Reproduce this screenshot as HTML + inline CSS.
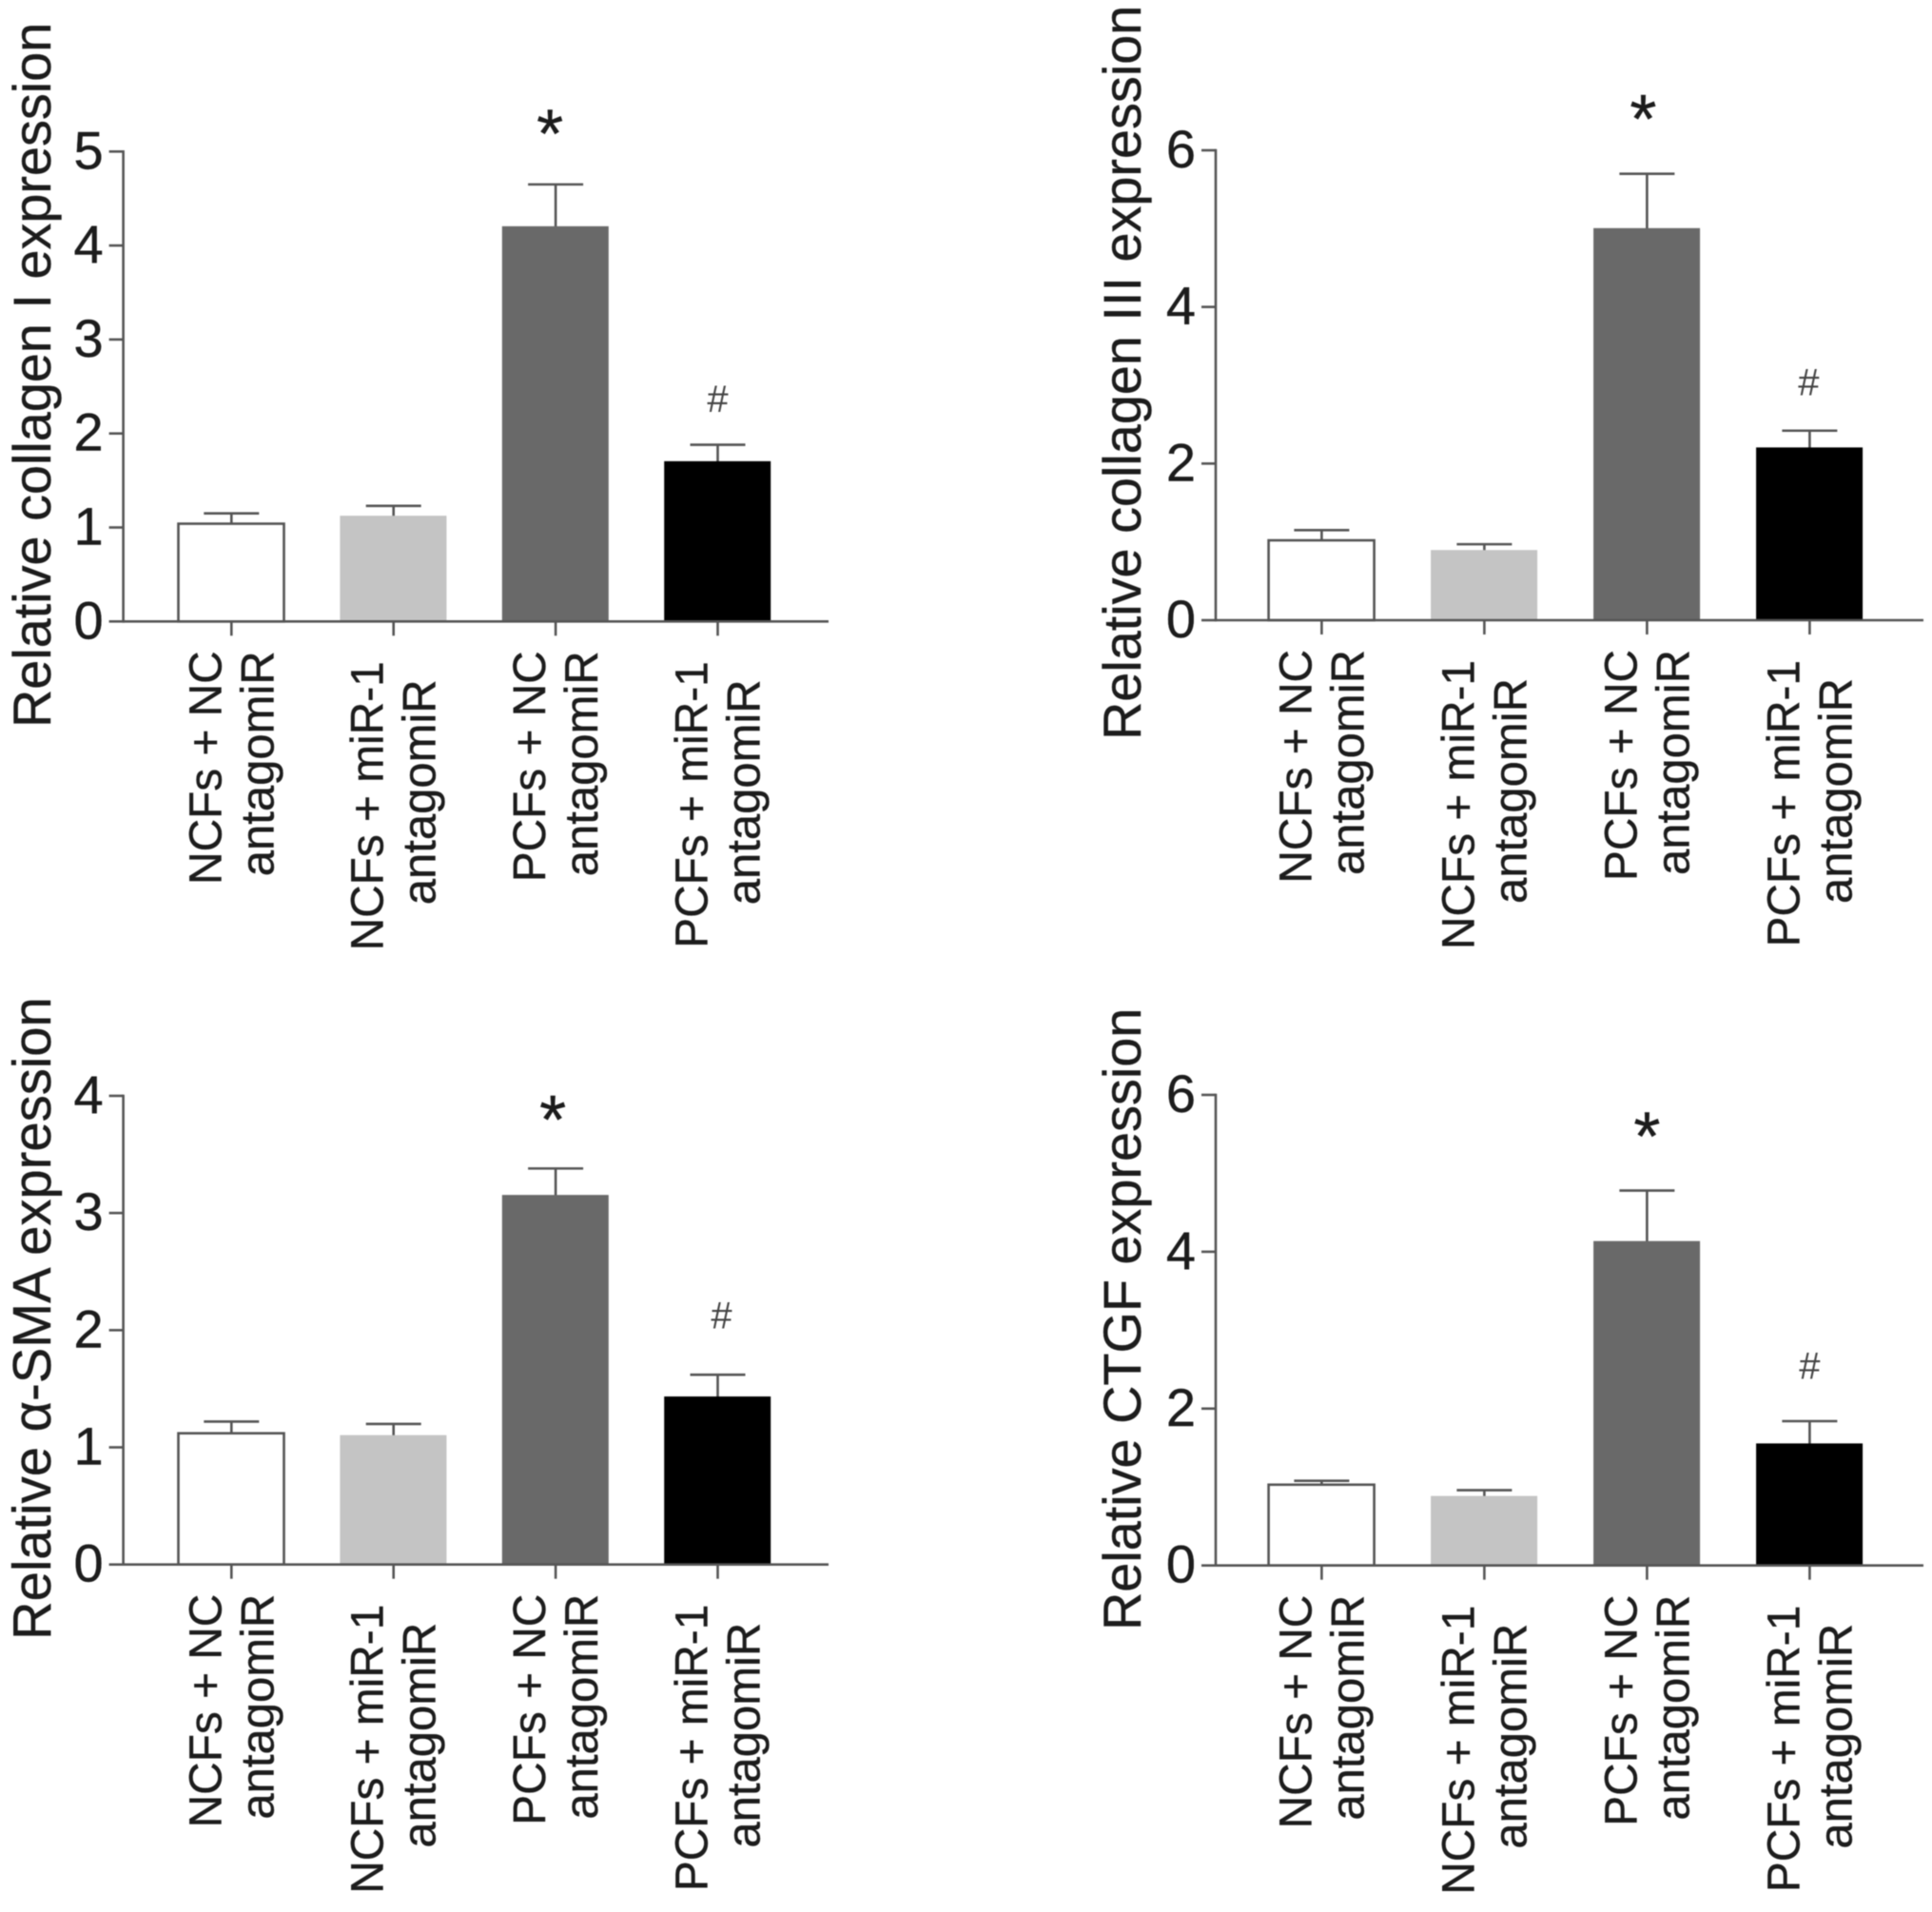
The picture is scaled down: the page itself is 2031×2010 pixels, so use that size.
<!DOCTYPE html>
<html lang="en">
<head>
<meta charset="utf-8">
<title>Relative expression bar charts</title>
<style>
html,body{margin:0;padding:0;background:#fff;}
body{width:2031px;height:2010px;overflow:hidden;}
svg{display:block;filter:blur(0.6px);}
text{font-family:"Liberation Sans",sans-serif;fill:#1c1c1c;stroke:#1c1c1c;stroke-width:0.4px;}
</style>
</head>
<body>
<svg id="figure" xmlns="http://www.w3.org/2000/svg" width="2031" height="2010" viewBox="0 0 2031 2010"></svg>
<script>
const categoryLines = [
  ["NCFs + NC", "antagomiR"],
  ["NCFs + miR-1", "antagomiR"],
  ["PCFs + NC", "antagomiR"],
  ["PCFs + miR-1", "antagomiR"]
];
const barFills = ["#ffffff", "#c4c4c4", "#696969", "#000000"];

const collagen1Values = [1.04, 1.12, 4.20, 1.70];
const collagen1ErrorTops = [1.15, 1.23, 4.65, 1.88];
const collagen1Ticks = [0, 1, 2, 3, 4, 5];
const collagen1Marks = [5.27, 2.37];

const collagen3Values = [1.02, 0.89, 5.00, 2.20];
const collagen3ErrorTops = [1.15, 0.97, 5.70, 2.42];
const collagen3Ticks = [0, 2, 4, 6];
const collagen3Marks = [6.50, 3.04];

const smaValues = [1.12, 1.10, 3.15, 1.43];
const smaErrorTops = [1.22, 1.20, 3.38, 1.62];
const smaTicks = [0, 1, 2, 3, 4];
const smaMarks = [3.86, 2.13];

const ctgfValues = [1.03, 0.88, 4.13, 1.55];
const ctgfErrorTops = [1.08, 0.96, 4.78, 1.84];
const ctgfTicks = [0, 2, 4, 6];
const ctgfMarks = [5.57, 2.55];

const SVG_NS = "http://www.w3.org/2000/svg";
const AXIS = "#555555";
const figure = document.getElementById("figure");

function make(parent, tag, attrs, content) {
  const node = document.createElementNS(SVG_NS, tag);
  for (const key in attrs) node.setAttribute(key, attrs[key]);
  if (content !== undefined) node.textContent = content;
  parent.appendChild(node);
  return node;
}

function drawPanel(p) {
  const group = make(figure, "g", {});
  
  

  const yMax = p.ticks[p.ticks.length - 1];
  const yScale = v => p.base - (v / yMax) * (p.base - p.top);
  const xScale = i => p.x0 + i * p.step;
  const barWidth = 111;

  p.values.forEach((value, i) => {
    const cx = xScale(i);
    const yTop = yScale(p.errorTops[i]);
    const yBar = yScale(value);

    const stem = make(group, "line", {x1: cx, x2: cx, y1: yTop, y2: yBar, stroke: AXIS, "stroke-width": 2.6});
    
    
    const cap = make(group, "line", {x1: cx - 29, x2: cx + 29, y1: yTop, y2: yTop, stroke: AXIS, "stroke-width": 2.6});
    
    

    const outlined = i === 0;
    const bar = make(group, "rect", {
      x: cx - barWidth / 2 - 0.3, y: yBar, width: barWidth, height: p.base - yBar,
      fill: barFills[i],
      stroke: outlined ? AXIS : barFills[i],
      "stroke-width": outlined ? 2.6 : 1
    });
    
    

    const xTick = make(group, "line", {x1: cx, x2: cx, y1: p.base, y2: p.base + 15, stroke: AXIS, "stroke-width": 2.6});
    
    

    const lines = categoryLines[i];
    lines.forEach((line, j) => {
      const shorter = lines[0].length > 10;
      const baseX = cx + (j === 0 ? -11 : 44);
      const topY = p.base + (shorter ? (j === 0 ? 42 : 61) : 31);
      const label = make(group, "text", {
        transform: "translate(" + baseX + "," + topY + ") rotate(-90)",
        "text-anchor": "end", "font-size": j === 0 ? 47.8 : 49
      }, line);
      
      
    });
  });

  const yAxis = make(group, "line", {x1: p.axisX, x2: p.axisX, y1: p.top - 1.3, y2: p.base + 1.3, stroke: AXIS, "stroke-width": 2.6});
  
  
  const xAxis = make(group, "line", {x1: p.axisX, x2: p.axisEnd, y1: p.base, y2: p.base, stroke: AXIS, "stroke-width": 2.6});
  
  

  p.ticks.forEach(tickValue => {
    const y = yScale(tickValue);
    const tick = make(group, "line", {x1: p.axisX - 15, x2: p.axisX, y1: y, y2: y, stroke: AXIS, "stroke-width": 2.6});
    
    
    const tickLabel = make(group, "text", {x: p.axisX - 21, y: y + 18, "text-anchor": "end", "font-size": 56}, String(tickValue));
    
    
  });

  const title = make(group, "text", {
    transform: "translate(" + p.titleX + "," + p.titleY + ") rotate(-90)",
    "font-size": p.titleSize
  }, p.title);
  
  

  const star = make(group, "text", {
    x: xScale(2) + p.starDx, y: yScale(p.marks[0]) + 33,
    "text-anchor": "middle", "font-size": 72
  }, "*");
  
  

  const hash = make(group, "text", {
    x: xScale(3) + p.hashDx, y: yScale(p.marks[1]) + 14,
    "text-anchor": "middle", "font-size": 40, style: "fill:#444;stroke:none"
  }, "#");
  
  
}

drawPanel({id: "collagen-1", title: "Relative collagen I expression", titleSize: 55.8,
  values: collagen1Values, errorTops: collagen1ErrorTops, ticks: collagen1Ticks, marks: collagen1Marks,
  axisX: 129.6, axisEnd: 871, top: 159.3, base: 653.3, x0: 243.3, step: 170.4,
  titleX: 53, titleY: 765, starDx: -6, hashDx: 0});

drawPanel({id: "collagen-3", title: "Relative collagen III expression", titleSize: 55.8,
  values: collagen3Values, errorTops: collagen3ErrorTops, ticks: collagen3Ticks, marks: collagen3Marks,
  axisX: 1278, axisEnd: 2022, top: 158, base: 652, x0: 1389.4, step: 171,
  titleX: 1199, titleY: 778, starDx: -4, hashDx: -1});

drawPanel({id: "alpha-sma", title: "Relative α-SMA expression", titleSize: 56.2,
  values: smaValues, errorTops: smaErrorTops, ticks: smaTicks, marks: smaMarks,
  axisX: 129.6, axisEnd: 871, top: 1152, base: 1644.7, x0: 243.3, step: 170.4,
  titleX: 53, titleY: 1724, starDx: -3, hashDx: 4});

drawPanel({id: "ctgf", title: "Relative CTGF expression", titleSize: 55.8,
  values: ctgfValues, errorTops: ctgfErrorTops, ticks: ctgfTicks, marks: ctgfMarks,
  axisX: 1278, axisEnd: 2022, top: 1151, base: 1645.7, x0: 1389.4, step: 171,
  titleX: 1199, titleY: 1714, starDx: 0, hashDx: 0});
</script>
</body>
</html>
